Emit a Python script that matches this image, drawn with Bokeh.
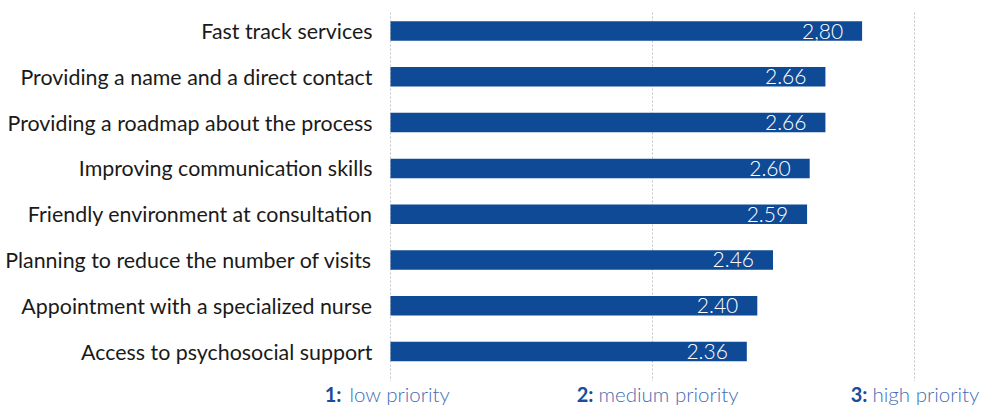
from bokeh.plotting import figure
from bokeh.models import Range1d, ColumnDataSource
from bokeh.core.properties import value
from bokeh.embed import file_html
from bokeh.resources import INLINE

# ---- data ----
categories = [
    "Fast track services",
    "Providing a name and a direct contact",
    "Providing a roadmap about the process",
    "Improving communication skills",
    "Friendly environment at consultation",
    "Planning to reduce the number of visits",
    "Appointment with a specialized nurse",
    "Access to psychosocial support",
]
scores = [2.80, 2.66, 2.66, 2.60, 2.59, 2.46, 2.40, 2.36]
score_labels = ["2,80", "2.66", "2.66", "2.60", "2.59", "2.46", "2.40", "2.36"]
tick_values = [1, 2, 3]
tick_names = ["low priority", "medium priority", "high priority"]

# ---- styles ----
BAR = "#0f4a96"
DARK_BLUE = "#1b4b99"
LIGHT_BLUE = "#3f6cb3"
FONT = "Lato"
LIGHT_FONT = "Lato Light"

positions = list(range(len(categories)))
baseline = tick_values[0]

p = figure(
    width=986, height=406,
    x_range=Range1d(-0.4885, 3.2748),
    y_range=Range1d(8.199, -0.666),
    output_backend="svg", toolbar_location=None,
    x_axis_location=None, y_axis_location=None,
    min_border=0,
)
p.outline_line_color = None
p.xgrid.visible = False
p.ygrid.visible = False

# dotted vertical grid lines at the priority levels
p.segment(x0=tick_values, x1=tick_values,
          y0=[-0.404] * len(tick_values), y1=[7.646] * len(tick_values),
          line_color="#c4c4c4", line_width=1, line_dash="2 2")

# bars
src = ColumnDataSource(dict(y=positions, right=scores, lab=score_labels,
                            cat=categories, base=[baseline] * len(scores)))
p.hbar(y="y", left="base", right="right", height=0.426, source=src,
       fill_color=BAR, line_color=None)

# category labels to the left of the bars
p.text(x="base", y="y", text="cat", source=src,
       text_align="right", text_baseline="middle", x_offset=-18,
       text_font=value(FONT), text_font_size="21.4px", text_color="#1a1a1a")

# value labels inside bar ends
p.text(x="right", y="y", text="lab", source=src,
       text_align="right", text_baseline="middle",
       x_offset=-19, y_offset=0,
       text_font=value(LIGHT_FONT), text_font_size="21px", text_color="white")

# bottom scale labels: bold number + light description
label_y = [7.93] * len(tick_values)
p.text(x=tick_values, y=label_y,
       text=[f"{v}:" for v in tick_values],
       x_offset=[-49, -59, -47],
       text_align="right", text_baseline="middle",
       text_font=value(FONT), text_font_style="bold",
       text_font_size="20px", text_color=DARK_BLUE)
p.text(x=tick_values, y=label_y,
       text=tick_names,
       x_offset=[-41, -54, -42],
       text_align="left", text_baseline="middle",
       text_font=value(LIGHT_FONT),
       text_font_size="20.5px", text_color=LIGHT_BLUE)

open("out.html", "w").write(file_html(p, INLINE))
